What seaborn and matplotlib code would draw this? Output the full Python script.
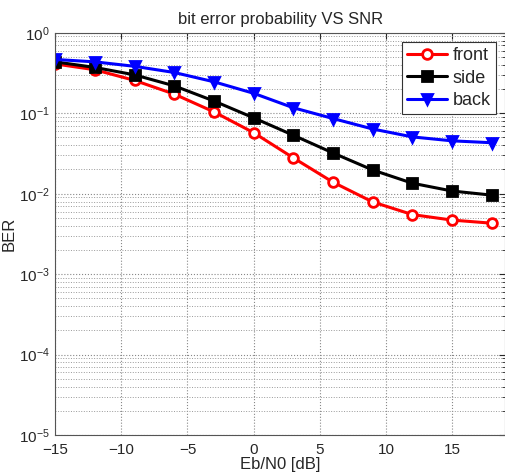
import numpy as np
import pandas as pd
import matplotlib
matplotlib.use("Agg")
import matplotlib.pyplot as plt
from matplotlib.ticker import LogLocator, NullFormatter, MultipleLocator
import seaborn as sns

snr = [-15, -12, -9, -6, -3, 0, 3, 6, 9, 12, 15, 18]
ber_front = [0.41, 0.347, 0.256, 0.173, 0.104, 0.0574, 0.0279, 0.0139, 0.0079, 0.0055, 0.0047, 0.0043]
ber_side = [0.435, 0.371, 0.300, 0.219, 0.142, 0.0877, 0.0533, 0.0321, 0.0197, 0.0135, 0.0108, 0.0096]
ber_back = [0.466, 0.435, 0.383, 0.321, 0.246, 0.177, 0.117, 0.086, 0.0637, 0.0508, 0.0454, 0.043]

sns.set_style("white")
plt.rcParams['font.family'] = ['Liberation Sans', 'DejaVu Sans']
plt.rcParams['mathtext.fontset'] = 'custom'
plt.rcParams['mathtext.rm'] = 'Liberation Sans'

fig = plt.figure(figsize=(5.06, 4.75), dpi=100)
ax = fig.add_axes([0.109, 0.084, 0.889, 0.847])

series = [
    ("front", ber_front, "#ff0000", "o", "white"),
    ("side", ber_side, "#000000", "s", "#000000"),
    ("back", ber_back, "#0000ff", "v", "#0000ff"),
]
for name, vals, col, mk, fc in series:
    df = pd.DataFrame({"snr": snr, "ber": vals})
    sns.lineplot(data=df, x="snr", y="ber", ax=ax, color=col, marker=mk,
                 markersize=7, markerfacecolor=fc, markeredgecolor=col,
                 markeredgewidth=2, linewidth=2.2, label=name)

ax.set_yscale("log")
ax.set_xlim(-15, 19)
ax.set_ylim(1e-5, 1)
ax.xaxis.set_major_locator(MultipleLocator(5))
ax.yaxis.set_major_locator(LogLocator(base=10, numticks=10))
ax.yaxis.set_minor_locator(LogLocator(base=10, subs=np.arange(2, 10), numticks=20))
ax.yaxis.set_minor_formatter(NullFormatter())

ax.grid(True, which="major", linestyle=":", color="#888888", linewidth=0.8)
ax.grid(True, which="minor", axis="y", linestyle=":", color="#999999", linewidth=0.7)
ax.tick_params(direction="in", which="both", labelsize=11, top=True, right=True)
ax.tick_params(which="major", length=4)
ax.tick_params(which="minor", length=2)
ax.tick_params(axis="x", pad=6)
ax.tick_params(axis="y", pad=4)
for s in ax.spines.values():
    s.set_color("#555555")
    s.set_linewidth(0.8)

ax.set_title("bit error probability VS SNR", fontsize=12)
ax.set_xlabel("Eb/N0 [dB]", fontsize=12, labelpad=0)
ax.set_ylabel("BER", fontsize=12)
ax.yaxis.set_label_coords(-0.085, 0.5)
leg = ax.legend(loc="upper right", fontsize=13, fancybox=False, framealpha=1,
                edgecolor="#333333", handlelength=2.2, borderpad=0.3,
                labelspacing=0.3, handletextpad=0.3)
leg.get_frame().set_linewidth(0.8)

fig.savefig("out.png", dpi=100)
